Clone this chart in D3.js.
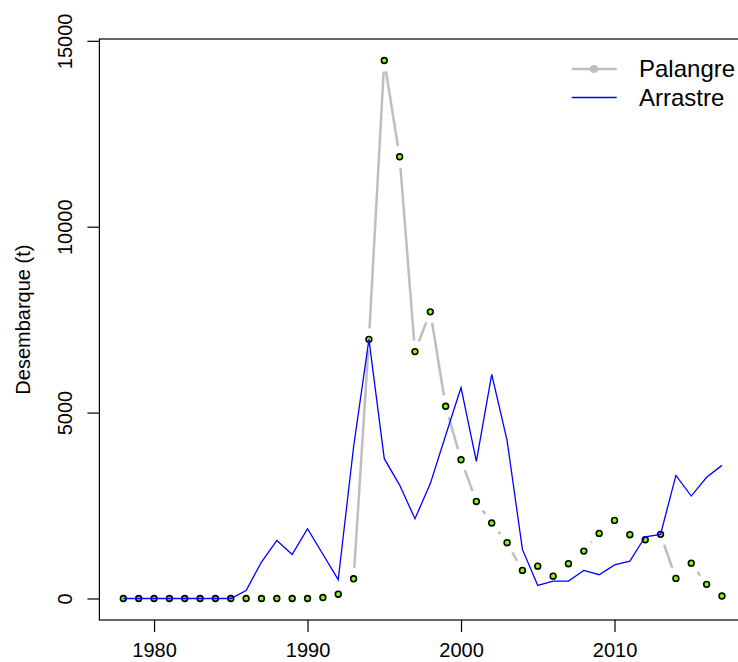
<!DOCTYPE html>
<html>
<head>
<meta charset="utf-8">
<script src="https://cdn.jsdelivr.net/npm/d3@7"></script>
<style>
  html, body { margin: 0; padding: 0; background: #fff; }
  svg { display: block; font-family: "Liberation Sans", Arial, sans-serif; }
</style>
</head>
<body>
<svg id="chart" width="738" height="662"></svg>
<script>
const years = d3.range(1978, 2018);
const palangre = [
  0, 0, 0, 0, 0, 0, 0, 0,            // 1978-1985
  0, 0, 0, 0, 0, 25, 115, 530,       // 1986-1993
  6970, 14470, 11880, 6640, 7710, 5170, // 1994-1999
  3730, 2610, 2030, 1500, 755, 870,  // 2000-2005
  600, 935, 1275, 1750, 2100, 1715,  // 2006-2011
  1580, 1725, 540, 950, 380, 65      // 2012-2017
];
const arrastre = [
  0, 0, 0, 0, 0, 0, 0, 0,            // 1978-1985
  215, 980, 1560, 1185, 1875, 1190, 505, 4075, // 1986-1993
  6970, 3760, 3050, 2145, 3090, 4390, // 1994-1999
  5675, 3690, 6030, 4255, 1320, 350, // 2000-2005
  465, 470, 755, 640, 905, 1005,     // 2006-2011
  1660, 1725, 3310, 2755, 3260, 3580 // 2012-2017
];
const xTicks = [1980, 1990, 2000, 2010];
const yTicks = [0, 5000, 10000, 15000];
const seriesNames = ["Palangre", "Arrastre"];

(function () {
const svg = d3.select("#chart");
const mLeft = 99.4, mRight = 745.9, mTop = 39, mBottom = 620;

function padded(lo, hi) { const p = (hi - lo) * 0.04; return [lo - p, hi + p]; }
const x = d3.scaleLinear().domain(padded(d3.min(years), d3.max(years))).range([mLeft, mRight]);
const yMax = d3.max(palangre.concat(arrastre));
const y = d3.scaleLinear().domain(padded(0, yMax)).range([mBottom, mTop]);

// box
svg.append("rect").attr("x", mLeft).attr("y", mTop)
  .attr("width", mRight - mLeft).attr("height", mBottom - mTop)
  .attr("fill", "none").attr("stroke", "#000").attr("stroke-width", 1.2);

// x axis
const xAxis = d3.axisBottom(x).tickValues(xTicks).tickSize(12).tickFormat(d3.format("d"));
const gx = svg.append("g").attr("transform", `translate(0,${mBottom})`).call(xAxis);
gx.select(".domain").remove();
gx.selectAll(".tick line").attr("stroke", "#000").attr("stroke-width", 1.2);
gx.selectAll(".tick text").attr("font-size", 20).attr("fill", "#000")
  .attr("y", 37).attr("dy", 0).attr("font-family", "Liberation Sans, Arial, sans-serif");

// y axis
const yAxis = d3.axisLeft(y).tickValues(yTicks).tickSize(12).tickFormat(d3.format("d"));
const gy = svg.append("g").attr("transform", `translate(${mLeft},0)`).call(yAxis);
gy.select(".domain").remove();
gy.selectAll(".tick line").attr("stroke", "#000").attr("stroke-width", 1.2);
gy.selectAll(".tick text").attr("font-size", 20).attr("fill", "#000")
  .attr("x", null).attr("dy", null)
  .attr("text-anchor", "middle")
  .attr("transform", "translate(-27,0) rotate(-90)")
  .attr("font-family", "Liberation Sans, Arial, sans-serif");

// y title
svg.append("text").attr("transform", `translate(30,${y(7500)}) rotate(-90)`)
  .attr("text-anchor", "middle").attr("font-size", 20).attr("fill", "#000")
  .text("Desembarque (t)");

// Palangre: type "b" lines with gaps
const gap = 11;
const pal = years.map((yr, i) => [x(yr), y(palangre[i])]);
const segs = [];
for (let i = 0; i < pal.length - 1; i++) {
  const [x0, y0] = pal[i], [x1, y1] = pal[i + 1];
  const L = Math.hypot(x1 - x0, y1 - y0);
  if (L > 2 * gap) {
    const ux = (x1 - x0) / L, uy = (y1 - y0) / L;
    segs.push([x0 + ux * gap, y0 + uy * gap, x1 - ux * gap, y1 - uy * gap]);
  }
}
svg.append("g").selectAll("line").data(segs).join("line")
  .attr("x1", d => d[0]).attr("y1", d => d[1]).attr("x2", d => d[2]).attr("y2", d => d[3])
  .attr("stroke", "#BEBEBE").attr("stroke-width", 2.5);

svg.append("g").selectAll("circle").data(years).join("circle")
  .attr("cx", d => x(d)).attr("cy", (d, i) => y(palangre[i])).attr("r", 2.9)
  .attr("fill", "#7FFF00").attr("stroke", "#000").attr("stroke-width", 1.6);

// Arrastre
const line = d3.line().x((d, i) => x(years[i])).y(d => y(d));
svg.append("path").datum(arrastre).attr("d", line)
  .attr("fill", "none").attr("stroke", "#0000FF").attr("stroke-width", 1.3)
  .attr("stroke-linejoin", "miter");

// legend
const lg = svg.append("g");
const legY = [69, 97.5];
lg.append("line").attr("x1", 571.7).attr("x2", 616.7).attr("y1", legY[0]).attr("y2", legY[0])
  .attr("stroke", "#BEBEBE").attr("stroke-width", 2.5);
lg.append("circle").attr("cx", 594).attr("cy", legY[0]).attr("r", 4).attr("fill", "#BEBEBE");
lg.append("line").attr("x1", 571.7).attr("x2", 616.7).attr("y1", legY[1]).attr("y2", legY[1])
  .attr("stroke", "#0000FF").attr("stroke-width", 1.3);
lg.selectAll("text").data(seriesNames).join("text")
  .attr("x", 639).attr("y", (d, i) => legY[i]).attr("dy", "0.35em")
  .attr("font-size", 24).attr("fill", "#000").text(d => d);
})();
</script>
</body>
</html>
